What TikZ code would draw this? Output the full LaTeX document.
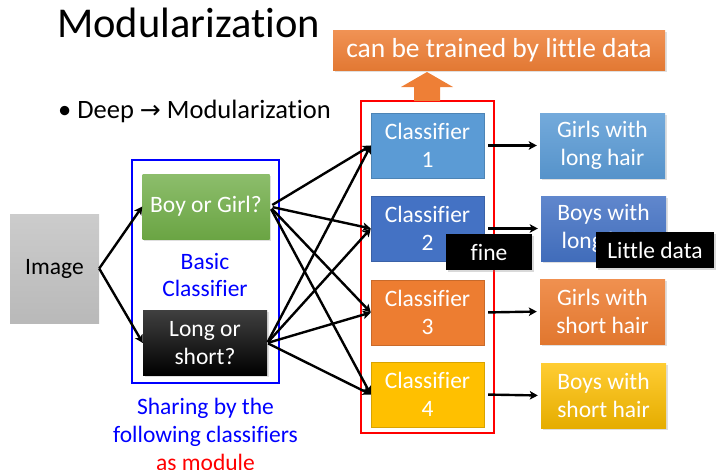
\documentclass[tikz,border=0pt]{standalone}
\usepackage{fontspec}
\setmainfont{Carlito}[Ligatures=NoCommon]
\newfontfamily\symfont{DejaVu Sans}
\usepackage{xcolor}
\usetikzlibrary{positioning, shadows, arrows.meta}

\definecolor{clsA}{HTML}{5B9BD5}
\definecolor{clsB}{HTML}{4472C4}
\definecolor{clsC}{HTML}{ED7D31}
\definecolor{clsD}{HTML}{FFC000}
\definecolor{basicGreen}{HTML}{70AD47}
\definecolor{noteOrange}{HTML}{EE7F36}

\begin{document}
\begin{tikzpicture}[x=1pt, y=-1pt,
            box/.style={rectangle, minimum width=113pt, minimum height=65pt, align=center, font=\fontsize{23.5}{28}\selectfont, text=white, inner sep=0pt},
            result/.style={box, minimum width=125pt, drop shadow={opacity=0.25, shadow xshift=1.5pt, shadow yshift=-1.5pt}},
            tag/.style={rectangle, fill=black, text=white, minimum height=36pt, font=\fontsize{23.5}{28}\selectfont, inner sep=0pt, drop shadow={opacity=0.3, shadow xshift=1.5pt, shadow yshift=-1.5pt}},
            link/.style={-{Stealth[length=8pt, width=8.5pt, inset=2pt]}, line width=2.4pt}
        ]
\useasboundingbox (0,0) rectangle (720,469);

% Title
            \node[anchor=base west, font=\fontsize{42.5}{50}\selectfont, inner sep=0pt] (title) at (57,37) {Modularization};
            \node[anchor=base west, font=\fontsize{26.5}{30}\selectfont, inner sep=0pt] (bullet) at (58,118) {\textbullet\ Deep {\symfont\fontsize{25}{30}\selectfont →} Modularization};

% Input and basic classifiers
            \node[box, minimum width=89pt, minimum height=109pt, top color=gray!40, bottom color=gray!55, text=black] (image) at (54.5,268.5) {Image};
            \node[box, minimum width=127pt, top color=basicGreen!80, bottom color=basicGreen!95!black, drop shadow={opacity=0.25, shadow xshift=1.5pt, shadow yshift=-1.5pt}] (boygirl) at (206,206.5) {Boy or Girl?};
            \node[box, minimum width=124pt, top color=black!75, bottom color=black, drop shadow={opacity=0.25, shadow xshift=1.5pt, shadow yshift=-1.5pt}] (longshort) at (205,343) {Long or\\short?};
            \node[draw=blue, line width=2.5pt, minimum width=147pt, minimum height=223pt] (shared) at (205.5,271.5) {};
            \node[align=center, text=blue, font=\fontsize{23.5}{27}\selectfont] (basic) at (205,275) {Basic\\Classifier};
            \node[align=center, text=blue, font=\fontsize{23.5}{28}\selectfont, below=10pt of shared] (sharing) {Sharing by the\\following classifiers\\\textcolor{red}{as module}};

% Classifiers
            \node[draw=red, line width=2.5pt, minimum width=133pt, minimum height=332pt] (group) at (427.5,267) {};
            \node[box, fill=clsA, draw=clsA!85!black] (cls1) at (427.5,145.5) {Classifier\\1};
            \node[box, fill=clsB, draw=clsB!85!black] (cls2) at (427.5,228.5) {Classifier\\2};
            \node[box, fill=clsC, draw=clsC!85!black] (cls3) at (427.5,312.5) {Classifier\\3};
            \node[box, fill=clsD, draw=clsD!85!black] (cls4) at (427.5,394.5) {Classifier\\4};

% Results
            \node[result, top color=clsA!85!white, bottom color=clsA!95!black] (res1) at (602.5,145.5) {Girls with\\long hair};
            \node[result, top color=clsB!85!white, bottom color=clsB!95!black] (res2) at (603.5,228.5) {Boys with\\long hair};
            \node[result, top color=clsC!85!white, bottom color=clsC!95!black] (res3) at (602.5,311.5) {Girls with\\short hair};
            \node[result, top color=clsD!80!white, bottom color=clsD!90!black] (res4) at (603.5,395.5) {Boys with\\short hair};

% Connections
            \draw[link] (image.east) -- (boygirl.west);
            \draw[link] (image.east) -- (longshort.west);

            \foreach \i in {1,...,4} {
                \draw[link, shorten <=3pt] (boygirl.east) -- (cls\i.west);
                \draw[link, shorten <=1pt] (longshort.east) -- (cls\i.west);
                \draw[link, shorten <=4pt, shorten >=3pt] (cls\i.east) -- (res\i.west);
            }

% Notes
            \node[rectangle, minimum width=332pt, minimum height=40pt, top color=noteOrange!85!white, bottom color=noteOrange!95!black, text=white, font=\fontsize{27.5}{30}\selectfont, drop shadow={opacity=0.25, shadow xshift=1.5pt, shadow yshift=-1.5pt}] (little) at (499,50) {can be trained by little data};
            \fill[noteOrange] (414,101) -- (414,87) -- (401,87) -- (427,72) -- (453,87) -- (440,87) -- (440,101) -- cycle;
            \node[tag, minimum width=86pt] (fine) at (489,252) {fine};
            \node[tag, minimum width=118pt] (littledata) at (655,250) {Little data};

        \end{tikzpicture}
\end{document}
